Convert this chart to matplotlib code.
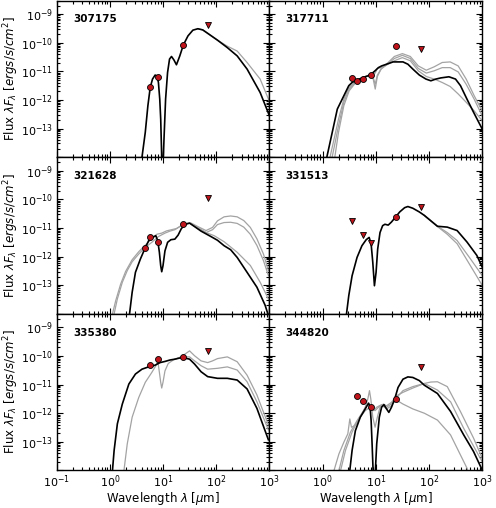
import numpy as np
import matplotlib
matplotlib.use('Agg')
import matplotlib.pyplot as plt
from matplotlib.ticker import LogLocator, NullFormatter

# ---------------- data ----------------
names = ['307175', '317711', '321628', '331513', '335380', '344820']

# photometric detections (wavelength in micron, flux in erg/s/cm^2)
p1_lam = [5.8, 8.0, 24.0];            p1_flux = [2.95e-12, 6.6e-12, 8.3e-11]
p1_ul_lam = [70.0];                   p1_ul_flux = [4.2e-10]
p2_lam = [3.6, 4.5, 5.8, 8.0, 24.0];  p2_flux = [5.75e-12, 4.57e-12, 5.25e-12, 7.24e-12, 7.76e-11]
p2_ul_lam = [70.0];                   p2_ul_flux = [5.9e-11]
p3_lam = [4.5, 5.8, 8.0, 24.0];       p3_flux = [2.0e-12, 5.0e-12, 3.3e-12, 1.35e-11]
p3_ul_lam = [70.0];                   p3_ul_flux = [1.1e-10]
p4_lam = [24.0];                      p4_flux = [2.45e-11]
p4_ul_lam = [3.6, 5.8, 8.0, 70.0];    p4_ul_flux = [1.7e-11, 5.9e-12, 3.1e-12, 5.6e-11]
p5_lam = [5.8, 8.0, 24.0];            p5_flux = [4.9e-11, 7.8e-11, 9.6e-11]
p5_ul_lam = [70.0];                   p5_ul_flux = [1.5e-10]
p6_lam = [4.5, 5.8, 8.0, 24.0];       p6_flux = [3.9e-12, 2.75e-12, 1.6e-12, 3.2e-12]
p6_ul_lam = [70.0];                   p6_ul_flux = [4.0e-11]

# model SEDs: log10(wavelength/micron), log10(flux)
# panel 1
p1_best_loglam = [0.55, 0.604, 0.666, 0.715, 0.759, 0.802, 0.851, 0.888, 0.913, 0.938, 0.956, 0.975, 0.99,
                  1.0, 1.006, 1.018, 1.048, 1.085, 1.122, 1.159, 1.204, 1.252, 1.315, 1.381, 1.469,
                  1.561, 1.654, 1.746, 1.839, 2.024, 2.209, 2.394, 2.580, 2.826, 3.0]
p1_best_logF = [-15.0, -14.0, -13.13, -12.20, -11.56, -11.27, -11.13, -11.16, -11.39, -11.97, -12.67, -14.0, -16.0,
                -16.0, -14.0, -13.36, -11.97, -11.04, -10.57, -10.48, -10.60, -10.77, -10.46, -10.08, -9.76,
                -9.56, -9.51, -9.55, -9.67, -9.91, -10.17, -10.46, -10.92, -11.74, -12.55]
p1_g1_loglam = [1.654, 1.746, 1.839, 2.024, 2.209, 2.394, 2.580, 2.826, 3.0]
p1_g1_logF = [-9.51, -9.55, -9.67, -9.91, -10.12, -10.29, -10.69, -11.27, -12.05]

# panel 2
p2_best_loglam = [0.0, 0.08, 0.277, 0.493, 0.555, 0.648, 0.771, 0.894, 0.987, 1.049, 1.111, 1.203, 1.326,
                  1.512, 1.604, 1.697, 1.820, 1.944, 2.036, 2.13, 2.222, 2.376, 2.5, 2.593, 2.715, 2.839, 3.0]
p2_best_logF = [-14.52, -14.00, -12.32, -11.50, -11.39, -11.30, -11.21, -11.13, -10.98, -10.87, -10.81, -10.75,
                -10.67, -10.67, -10.75, -10.92, -11.13, -11.27, -11.33, -11.27, -11.23, -11.19, -11.27, -11.50,
                -11.97, -12.43, -13.01]
p2_g1_loglam = [0.10, 0.23, 0.30, 0.40, 0.50, 0.65, 0.80, 0.90, 0.95, 0.99, 1.03, 1.10, 1.20, 1.35, 1.50,
                1.65, 1.80, 1.95, 2.10, 2.25, 2.40, 2.55, 2.70, 2.85, 3.0]
p2_g1_logF = [-14.29, -14.00, -13.13, -12.20, -11.68, -11.33, -11.18, -11.13, -11.25, -11.62, -11.18, -10.92,
              -10.75, -10.48, -10.38, -10.48, -10.81, -10.96, -10.84, -10.69, -10.67, -10.81, -11.27, -11.85, -12.38]
p2_g2_loglam = [0.08, 0.18, 0.30, 0.40, 0.50, 0.65, 0.80, 0.90, 0.95, 0.99, 1.03, 1.10, 1.20, 1.35, 1.50,
                1.65, 1.80, 1.95, 2.10, 2.25, 2.40, 2.55, 2.70, 2.85, 3.0]
p2_g2_logF = [-14.29, -14.00, -12.90, -12.08, -11.62, -11.33, -11.19, -11.13, -11.21, -11.45, -11.13, -10.92,
              -10.78, -10.55, -10.44, -10.55, -10.90, -11.06, -10.98, -10.87, -10.87, -11.02, -11.45, -11.97, -12.55]
p2_g3_loglam = [0.05, 0.14, 0.30, 0.40, 0.50, 0.65, 0.80, 0.90, 0.99, 1.03, 1.10, 1.20, 1.35, 1.50, 1.65,
                1.80, 1.95, 2.10, 2.25, 2.40, 2.55, 2.70, 2.85, 3.0]
p2_g3_logF = [-14.29, -14.00, -12.67, -11.97, -11.56, -11.31, -11.19, -11.10, -11.06, -10.90, -10.87, -10.78,
              -10.63, -10.52, -10.63, -10.98, -11.18, -11.27, -11.39, -11.53, -11.79, -12.08, -12.38, -12.72]

# panel 3
p3_best_loglam = [0.296, 0.370, 0.419, 0.481, 0.573, 0.654, 0.728, 0.802, 0.864, 0.901, 0.931, 0.956, 0.975,
                  0.999, 1.036, 1.086, 1.148, 1.222, 1.283, 1.345, 1.419, 1.499, 1.592, 1.715, 1.901, 2.024,
                  2.148, 2.271, 2.394, 2.580, 2.765, 2.919, 2.981]
p3_best_logF = [-14.87, -14.00, -13.25, -12.55, -12.09, -11.74, -11.45, -11.33, -11.27, -11.45, -11.85, -12.32,
                -12.53, -12.32, -11.80, -11.50, -11.41, -11.39, -11.25, -11.02, -10.87, -10.83, -10.95, -11.11,
                -11.30, -11.43, -11.62, -11.76, -12.03, -12.55, -13.07, -13.70, -14.06]
p3_g1_loglam = [-0.013, 0.049, 0.110, 0.203, 0.296, 0.419, 0.543, 0.666, 0.790, 0.882, 0.975, 1.067, 1.160,
                1.252, 1.345, 1.438, 1.530, 1.654, 1.808, 1.931, 2.024, 2.148, 2.271, 2.394, 2.518, 2.641,
                2.765, 2.888, 2.981]
p3_g1_logF = [-14.64, -14.00, -13.54, -12.96, -12.52, -12.11, -11.83, -11.60, -11.37, -11.22, -11.18, -11.10,
              -11.06, -11.02, -10.92, -10.84, -10.83, -10.95, -11.09, -10.98, -10.75, -10.61, -10.58, -10.61,
              -10.74, -10.98, -11.38, -11.91, -12.48]
p3_g2_loglam = [0.018, 0.080, 0.141, 0.234, 0.327, 0.419, 0.543, 0.666, 0.790, 0.913, 1.036, 1.129, 1.222,
                1.314, 1.407, 1.499, 1.654, 1.808, 1.931, 2.024, 2.148, 2.271, 2.394, 2.518, 2.641, 2.765,
                2.888, 2.981]
p3_g2_logF = [-14.64, -14.00, -13.48, -12.90, -12.49, -12.18, -11.91, -11.68, -11.50, -11.30, -11.18, -11.11,
              -11.06, -10.95, -10.87, -10.83, -10.98, -11.16, -11.06, -10.88, -10.81, -10.80, -10.84, -10.97,
              -11.22, -11.61, -12.14, -12.66]
p3_g3_loglam = [1.407, 1.499, 1.654, 1.808, 1.962, 2.148, 2.394, 2.641, 2.827, 2.981]
p3_g3_logF = [-10.87, -10.83, -11.02, -11.16, -11.27, -11.48, -11.85, -12.31, -12.90, -13.48]

# panel 4
p4_best_loglam = [0.401, 0.450, 0.493, 0.555, 0.648, 0.740, 0.820, 0.876, 0.913, 0.944, 0.975, 1.006, 1.036,
                  1.080, 1.129, 1.172, 1.234, 1.296, 1.376, 1.450, 1.543, 1.604, 1.697, 1.820, 1.913, 2.036,
                  2.160, 2.345, 2.530, 2.715, 2.901, 3.0]
p4_best_logF = [-14.87, -14.00, -13.36, -12.67, -12.03, -11.62, -11.41, -11.33, -11.56, -12.20, -13.02, -12.55,
                -11.74, -11.16, -10.92, -10.87, -10.90, -10.79, -10.61, -10.44, -10.29, -10.25, -10.31, -10.44,
                -10.56, -10.75, -10.94, -10.97, -11.09, -11.49, -11.96, -12.36]
p4_g1_loglam = [1.913, 2.036, 2.160, 2.345, 2.530, 2.777, 3.0]
p4_g1_logF = [-10.56, -10.75, -10.94, -11.16, -11.44, -12.07, -12.66]
p4_g2_loglam = [1.913, 2.036, 2.160, 2.345, 2.530, 2.777, 3.0]
p4_g2_logF = [-10.56, -10.75, -10.95, -11.22, -11.55, -12.31, -13.00]

# panel 5
p5_best_loglam = [0.018, 0.049, 0.080, 0.141, 0.234, 0.357, 0.481, 0.604, 0.728, 0.851, 0.944, 1.036, 1.129,
                  1.222, 1.314, 1.407, 1.499, 1.592, 1.715, 1.839, 2.024, 2.209, 2.394, 2.580, 2.765, 2.981]
p5_best_logF = [-14.93, -14.00, -13.30, -12.37, -11.68, -10.98, -10.63, -10.46, -10.38, -10.32, -10.23, -10.19,
                -10.14, -10.11, -10.07, -10.07, -10.11, -10.28, -10.55, -10.72, -10.78, -10.78, -10.84, -11.15,
                -11.83, -12.93]
p5_g1_loglam = [0.203, 0.265, 0.327, 0.419, 0.543, 0.666, 0.790, 0.864, 0.901, 0.931, 0.956, 0.975, 0.999,
                1.036, 1.098, 1.191, 1.314, 1.407, 1.499, 1.592, 1.715, 1.839, 1.931, 2.024, 2.209, 2.394,
                2.580, 2.765, 2.981]
p5_g1_logF = [-14.93, -14.00, -13.07, -12.14, -11.45, -10.92, -10.57, -10.34, -10.17, -10.57, -10.92, -11.12,
              -10.92, -10.52, -10.26, -10.14, -10.05, -9.94, -9.82, -9.99, -10.17, -10.23, -10.17, -10.09,
              -10.03, -10.20, -10.67, -11.36, -12.41]
p5_g2_loglam = [1.222, 1.314, 1.407, 1.499, 1.592, 1.715, 1.839, 2.024, 2.209, 2.394, 2.580, 2.765, 2.981]
p5_g2_logF = [-10.11, -10.05, -10.03, -10.03, -10.17, -10.34, -10.46, -10.43, -10.38, -10.49, -10.90, -11.60,
              -12.58]

# panel 6
p6_best_loglam = [0.462, 0.512, 0.555, 0.617, 0.709, 0.802, 0.864, 0.894, 0.913, 0.931, 0.950, 0.962, 0.981,
                  0.993, 1.018, 1.067, 1.110, 1.154, 1.203, 1.246, 1.296, 1.357, 1.419, 1.512, 1.604, 1.697,
                  1.820, 1.913, 2.160, 2.407, 2.654, 2.839, 3.0]
p6_best_logF = [-14.93, -14.00, -13.30, -12.61, -12.14, -11.85, -11.65, -11.79, -12.26, -13.07, -14.00, -14.93,
                -14.93, -14.00, -13.07, -12.14, -11.79, -11.70, -11.85, -11.97, -11.79, -11.50, -11.10, -10.81,
                -10.73, -10.75, -10.86, -11.02, -11.31, -11.94, -12.76, -13.34, -13.98]
p6_g1_loglam = [0.154, 0.215, 0.308, 0.401, 0.475, 0.512, 0.543, 0.617, 0.709, 0.802, 0.851, 0.882, 0.907,
                0.944, 0.987, 1.030, 1.080, 1.141, 1.203, 1.296, 1.388, 1.512, 1.697, 1.913, 2.036, 2.160,
                2.345, 2.592, 2.839, 3.0]
p6_g1_logF = [-14.93, -14.00, -13.42, -13.01, -12.72, -12.20, -12.49, -12.43, -12.14, -11.79, -11.50, -11.21,
              -11.50, -12.14, -12.49, -12.14, -11.79, -11.68, -11.74, -11.62, -11.39, -11.27, -11.12, -10.96,
              -10.91, -10.90, -11.07, -11.94, -12.87, -13.57]
p6_g2_loglam = [0.246, 0.308, 0.401, 0.524, 0.648, 0.771, 0.864, 0.907, 0.956, 1.018, 1.110, 1.203, 1.296,
                1.388, 1.512, 1.697, 1.913, 2.160, 2.407, 2.654, 3.0]
p6_g2_logF = [-14.93, -14.00, -13.30, -12.66, -12.26, -11.91, -11.65, -11.74, -11.91, -11.79, -11.70, -11.85,
              -11.74, -11.47, -11.21, -11.07, -10.96, -11.19, -11.60, -12.53, -13.69]
p6_g3_loglam = [0.277, 0.339, 0.431, 0.555, 0.678, 0.802, 0.894, 0.987, 1.080, 1.203, 1.314, 1.388, 1.512,
                1.697, 1.913, 2.160, 2.407, 2.715, 2.808]
p6_g3_logF = [-14.93, -14.00, -13.30, -12.66, -12.20, -11.91, -11.79, -11.91, -11.74, -11.79, -11.65, -11.54,
              -11.68, -11.85, -12.00, -12.24, -12.76, -13.92, -14.47]

panels = [
    dict(best=(p1_best_loglam, p1_best_logF), greys=[(p1_g1_loglam, p1_g1_logF)],
         det=(p1_lam, p1_flux), ul=(p1_ul_lam, p1_ul_flux)),
    dict(best=(p2_best_loglam, p2_best_logF),
         greys=[(p2_g1_loglam, p2_g1_logF), (p2_g2_loglam, p2_g2_logF), (p2_g3_loglam, p2_g3_logF)],
         det=(p2_lam, p2_flux), ul=(p2_ul_lam, p2_ul_flux)),
    dict(best=(p3_best_loglam, p3_best_logF),
         greys=[(p3_g1_loglam, p3_g1_logF), (p3_g2_loglam, p3_g2_logF), (p3_g3_loglam, p3_g3_logF)],
         det=(p3_lam, p3_flux), ul=(p3_ul_lam, p3_ul_flux)),
    dict(best=(p4_best_loglam, p4_best_logF),
         greys=[(p4_g1_loglam, p4_g1_logF), (p4_g2_loglam, p4_g2_logF)],
         det=(p4_lam, p4_flux), ul=(p4_ul_lam, p4_ul_flux)),
    dict(best=(p5_best_loglam, p5_best_logF),
         greys=[(p5_g1_loglam, p5_g1_logF), (p5_g2_loglam, p5_g2_logF)],
         det=(p5_lam, p5_flux), ul=(p5_ul_lam, p5_ul_flux)),
    dict(best=(p6_best_loglam, p6_best_logF),
         greys=[(p6_g1_loglam, p6_g1_logF), (p6_g2_loglam, p6_g2_logF), (p6_g3_loglam, p6_g3_logF)],
         det=(p6_lam, p6_flux), ul=(p6_ul_lam, p6_ul_flux)),
]

xtick_vals = [0.1, 1, 10, 100, 1000]
xtick_labels = ['$10^{-1}$', '$10^{0}$', '$10^{1}$', '$10^{2}$', '$10^{3}$']
ytick_vals = [1e-14, 1e-13, 1e-12, 1e-11, 1e-10, 1e-9]
ytick_labels = ['', '$10^{-13}$', '$10^{-12}$', '$10^{-11}$', '$10^{-10}$', '$10^{-9}$']

# ---------------- figure ----------------
fig = plt.figure(figsize=(4.96, 5.08), dpi=100)
gs = fig.add_gridspec(3, 2, left=0.1143, right=0.972, bottom=0.074, top=0.999,
                      hspace=0, wspace=0)

red = '#c0141c'
for i, p in enumerate(panels):
    r, c = divmod(i, 2)
    ax = fig.add_subplot(gs[r, c])
    ax.set_xscale('log')
    ax.set_yscale('log')
    for gl, gf in p['greys']:
        ax.plot(10 ** np.array(gl), 10 ** np.array(gf), color='#a3a3a3', lw=0.9, zorder=2)
    bl, bf = p['best']
    ax.plot(10 ** np.array(bl), 10 ** np.array(bf), color='black', lw=1.2, zorder=3)
    ax.plot(p['det'][0], p['det'][1], 'o', ms=4.3, mfc=red, mec='black', mew=0.6, zorder=5)
    ax.plot(p['ul'][0], p['ul'][1], 'v', ms=4.8, mfc=red, mec='black', mew=0.6, zorder=5)

    ax.set_xlim(0.1, 1000)
    ax.set_ylim(1e-14, 3e-9)
    ax.set_xticks(xtick_vals)
    ax.set_yticks(ytick_vals)
    ax.xaxis.set_minor_locator(LogLocator(base=10, subs=np.arange(2, 10), numticks=50))
    ax.yaxis.set_minor_locator(LogLocator(base=10, subs=np.arange(2, 10), numticks=50))
    ax.xaxis.set_minor_formatter(NullFormatter())
    ax.yaxis.set_minor_formatter(NullFormatter())
    ax.tick_params(which='both', direction='in', top=True, right=True, width=0.8)
    ax.tick_params(which='major', length=4.5, labelsize=8, pad=2.5)
    ax.tick_params(which='minor', length=2.3)
    for s in ax.spines.values():
        s.set_linewidth(1.0)

    if r == 2:
        labs = list(xtick_labels)
        if c == 1:
            labs[0] = ''
        ax.set_xticklabels(labs)
        ax.set_xlabel(r'Wavelength $\lambda$ [$\mu$m]', fontsize=8.5, labelpad=0)
    else:
        ax.set_xticklabels([])
    if c == 0:
        ax.set_yticklabels(ytick_labels)
        ax.set_ylabel(r'Flux $\lambda F_{\lambda}$ $[ergs/s/cm^2]$', fontsize=8.5, labelpad=0)
    else:
        ax.set_yticklabels([])

    ax.text(0.076, 0.88, names[i], transform=ax.transAxes, fontsize=7.5,
            fontweight='bold', va='center', ha='left')

fig.savefig('out.png', dpi=100)
